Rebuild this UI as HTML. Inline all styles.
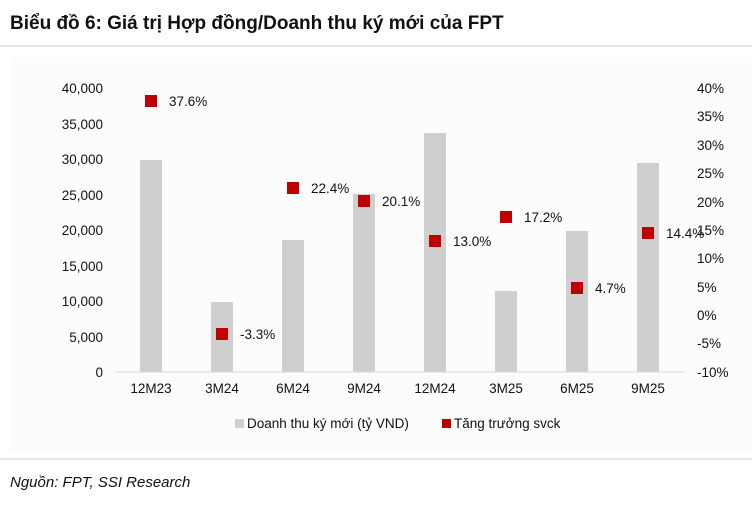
<!DOCTYPE html>
<html><head><meta charset="utf-8"><style>
body{margin:0;background:#fff;width:752px;height:502px;overflow:hidden;font-family:"Liberation Sans",sans-serif}
</style></head><body>
<svg width="752" height="502" xmlns="http://www.w3.org/2000/svg" font-family="Liberation Sans, sans-serif">
<text x="10" y="29" font-size="19" font-weight="bold" fill="#111">Biểu đồ 6: Giá trị Hợp đồng/Doanh thu ký mới của FPT</text>
<line x1="0" y1="46" x2="752" y2="46" stroke="#ccc" stroke-width="1"/>
<rect x="10" y="57" width="742" height="396" fill="#fcfcfc"/>
<g font-size="13.5" fill="#111" text-anchor="end">
<text x="103" y="93">40,000</text><text x="103" y="129">35,000</text><text x="103" y="164">30,000</text>
<text x="103" y="200">25,000</text><text x="103" y="235">20,000</text><text x="103" y="271">15,000</text>
<text x="103" y="306">10,000</text><text x="103" y="342">5,000</text><text x="103" y="377">0</text>
</g>
<g font-size="13.5" fill="#111" text-anchor="start">
<text x="697" y="93">40%</text><text x="697" y="121">35%</text><text x="697" y="150">30%</text>
<text x="697" y="178">25%</text><text x="697" y="207">20%</text><text x="697" y="235">15%</text>
<text x="697" y="263">10%</text><text x="697" y="292">5%</text><text x="697" y="320">0%</text>
<text x="697" y="348">-5%</text><text x="697" y="377">-10%</text>
</g>
<g fill="#cfcfcf">
<rect x="140" y="160" width="22" height="212"/><rect x="211" y="302" width="22" height="70"/>
<rect x="282" y="240" width="22" height="132"/><rect x="353" y="194" width="22" height="178"/>
<rect x="424" y="133" width="22" height="239"/><rect x="495" y="291" width="22" height="81"/>
<rect x="566" y="231" width="22" height="141"/><rect x="637" y="163" width="22" height="209"/>
</g>
<line x1="115" y1="372" x2="685" y2="372" stroke="#d9d9d9"/>
<g font-size="13.5" fill="#111" text-anchor="middle">
<text x="151" y="393">12M23</text><text x="222" y="393">3M24</text><text x="293" y="393">6M24</text>
<text x="364" y="393">9M24</text><text x="435" y="393">12M24</text><text x="506" y="393">3M25</text>
<text x="577" y="393">6M25</text><text x="648" y="393">9M25</text>
</g>
<g fill="#c00000">
<rect x="145" y="95" width="12" height="12"/><rect x="216" y="328" width="12" height="12"/>
<rect x="287" y="182" width="12" height="12"/><rect x="358" y="195" width="12" height="12"/>
<rect x="429" y="235" width="12" height="12"/><rect x="500" y="211" width="12" height="12"/>
<rect x="571" y="282" width="12" height="12"/><rect x="642" y="227" width="12" height="12"/>
</g>
<g font-size="13.5" fill="#111">
<text x="169" y="106">37.6%</text><text x="240" y="339">-3.3%</text><text x="311" y="193">22.4%</text>
<text x="382" y="206">20.1%</text><text x="453" y="246">13.0%</text><text x="524" y="222">17.2%</text>
<text x="595" y="293">4.7%</text><text x="666" y="238">14.4%</text>
</g>
<rect x="235" y="419" width="9" height="9" fill="#cfcfcf"/>
<text x="247" y="428" font-size="13.5" fill="#111">Doanh thu ký mới (tỷ VND)</text>
<rect x="442" y="419" width="9" height="9" fill="#c00000"/>
<text x="454" y="428" font-size="13.5" fill="#111">Tăng trưởng svck</text>
<line x1="0" y1="459" x2="752" y2="459" stroke="#ccc"/>
<text x="10" y="487" font-size="15" font-style="italic" fill="#111">Nguồn: FPT, SSI Research</text>
</svg>
</body></html>
